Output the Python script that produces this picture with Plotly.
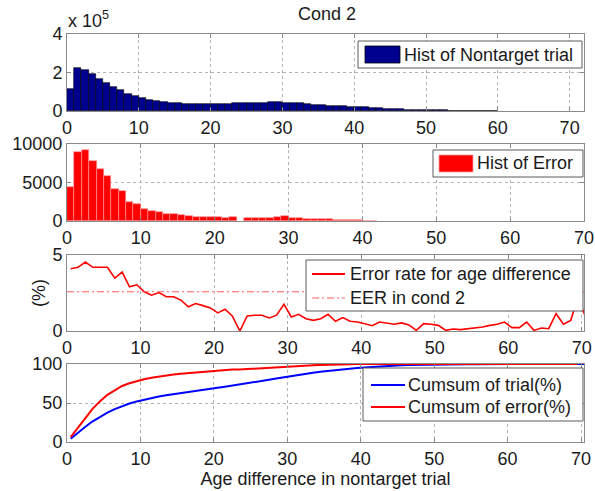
import numpy as np
import plotly.graph_objects as go

# ---------------- data ----------------
# 1-year age-difference bins (left edges)
trial_bins = np.arange(0, 72)
# non-target trial counts per bin, in units of 1e5
nontarget_hist_1e5 = [
    1.13, 2.23, 2.11, 1.92, 1.66, 1.45, 1.26, 1.07, 0.90, 0.76,
    0.66, 0.57, 0.50, 0.45, 0.42, 0.39, 0.38, 0.37, 0.37, 0.37,
    0.38, 0.37, 0.38, 0.39, 0.41, 0.43, 0.44, 0.43, 0.47, 0.45,
    0.44, 0.43, 0.40, 0.36, 0.33, 0.30, 0.28, 0.26, 0.24, 0.23,
    0.21, 0.19, 0.17, 0.15, 0.13, 0.11, 0.09, 0.075, 0.06, 0.05,
    0.04, 0.035, 0.03, 0.025, 0.02, 0.02, 0.015, 0.012, 0.01, 0.008,
    0, 0, 0, 0, 0, 0, 0, 0, 0, 0, 0, 0,
]

error_bins = np.arange(0, 70)
error_hist = [
    4460, 9000, 9260, 7840, 6710, 5890, 4110, 3940, 2470, 2160,
    1560, 1300, 1170, 950, 870, 740, 600, 560, 560, 560,
    560, 430, 520, 0, 430, 430, 430, 430, 480, 650,
    390, 350, 220, 220, 220, 300, 130, 130, 100, 90,
    20, 60, 0, 0, 0, 0, 0, 0, 0, 0,
    0, 0, 0, 0, 0, 0, 0, 0, 0, 0,
    0, 0, 0, 0, 0, 0, 0, 0, 0, 0,
]

rate_bins = np.arange(0, 71)
error_rate_pct = [
    4.10, 4.19, 4.54, 4.19, 4.19, 4.19, 3.48, 3.88, 2.91, 3.04,
    2.58, 2.36, 2.53, 2.25, 2.25, 2.03, 1.59, 1.81, 1.67, 1.52,
    1.19, 1.43, 0.97, 0.00, 0.99, 1.04, 1.04, 0.86, 1.04, 1.76,
    0.92, 1.10, 0.81, 0.70, 0.81, 1.10, 0.64, 0.88, 0.64, 0.59,
    0.48, 0.35, 0.59, 0.53, 0.44, 0.53, 0.40, 0.04, 0.48, 0.44,
    0.37, 0.04, 0.13, 0.09, 0.15, 0.22, 0.26, 0.37, 0.44, 0.59,
    0.22, 0.22, 0.59, 0.04, 0.20, 0.15, 1.14, 0.44, 0.70, 2.24,
    0.92,
]
eer_cond2 = 2.58

# cumulative percentages derived from the two histograms
trial_counts = np.array(nontarget_hist_1e5) * 1e5
cum_trial = 100 * np.cumsum(trial_counts) / trial_counts.sum()
err_counts = np.array(error_hist, dtype=float)
cum_error = 100 * np.cumsum(err_counts) / err_counts.sum()

# empty bins are left undrawn (no outline along the baseline)
trial_bars = np.where(trial_counts > 0, trial_counts, np.nan)
error_bars = np.where(err_counts > 0, err_counts, np.nan)

# ---------------- geometry helpers ----------------
W, H = 595, 491
L, R, T, B = 67, 584, 34, 442


def fx(px):
    return (px - L) / (R - L)


def fy(py):
    return (B - py) / (B - T)


panels = [(34, 111), (144, 221), (255, 331), (364, 442)]

FONT = "Liberation Sans, Arial, sans-serif"
TXT = "#1a1a1a"
AXC = "#8a8a8a"
GRID = "#b4b4b4"
NAVY = "#00008f"
RED = "#ff0000"
BLUE = "#0000ff"

fig = go.Figure()

fig.add_trace(go.Bar(
    x=trial_bins, y=trial_bars, width=1, offset=0,
    marker=dict(color=NAVY, line=dict(color="black", width=0.6)),
    xaxis="x", yaxis="y", showlegend=False))

fig.add_trace(go.Bar(
    x=error_bins, y=error_bars, width=1, offset=0,
    marker=dict(color=RED, line=dict(color="#ff9a9a", width=0.6)),
    xaxis="x2", yaxis="y2", showlegend=False))

fig.add_trace(go.Scatter(
    x=rate_bins + 0.5, y=error_rate_pct, mode="lines",
    line=dict(color=RED, width=1.6),
    xaxis="x3", yaxis="y3", showlegend=False))

fig.add_trace(go.Scatter(
    x=trial_bins + 0.5, y=cum_trial, mode="lines",
    line=dict(color=BLUE, width=2),
    xaxis="x4", yaxis="y4", showlegend=False))

fig.add_trace(go.Scatter(
    x=error_bins + 0.5, y=cum_error, mode="lines",
    line=dict(color=RED, width=2),
    xaxis="x4", yaxis="y4", showlegend=False))

# EER reference level
fig.add_shape(type="line", xref="x3 domain", yref="y3", x0=0, x1=1,
              y0=eer_cond2, y1=eer_cond2,
              line=dict(color="#ff5a5a", width=1, dash="7px,3px,2px,3px"),
              layer="above")

axis_common = dict(
    showline=True, linecolor=AXC, linewidth=1, mirror="ticks",
    ticks="inside", ticklen=4, tickcolor=AXC, tickwidth=1,
    showgrid=True, gridcolor=GRID, gridwidth=1, griddash="dot",
    zeroline=False, automargin=False,
    tickfont=dict(family=FONT, size=18, color=TXT),
)

x_ticks = list(range(0, 71, 10))
x_ranges = [[0, 72], [0, 70], [0, 70.3], [0, 70.4]]
y_specs = [
    dict(range=[0, 4e5], tickvals=[0, 2e5, 4e5], ticktext=["0", "2", "4"]),
    dict(range=[0, 10000], tickvals=[0, 5000, 10000],
         ticktext=["0", "5000", "10000"]),
    dict(range=[0, 5], tickvals=[0, 5], ticktext=["0", "5"], showgrid=False),
    dict(range=[0, 100], tickvals=[0, 50, 100], ticktext=["0", "50", "100"]),
]

layout = dict(
    width=W, height=H,
    margin=dict(l=L, r=W - R, t=T, b=H - B),
    paper_bgcolor="white", plot_bgcolor="white",
    template="none", bargap=0, barmode="overlay",
    font=dict(family=FONT, size=18, color=TXT),
    title=dict(text="Cond 2", x=fx(327), xref="paper", xanchor="center",
               y=1 - 14 / H, yref="container", yanchor="middle",
               font=dict(family=FONT, size=18, color=TXT)),
)

for i, ((top, bot), xr, ys) in enumerate(zip(panels, x_ranges, y_specs)):
    sfx = "" if i == 0 else str(i + 1)
    xa = dict(axis_common)
    xa.update(range=xr, tickvals=x_ticks, ticktext=[str(v) for v in x_ticks],
              anchor="y" + sfx, domain=[0, 1])
    ya = dict(axis_common)
    ya.update(ys)
    ya.update(anchor="x" + sfx, domain=[fy(bot), fy(top)])
    layout["xaxis" + sfx] = xa
    layout["yaxis" + sfx] = ya

layout["yaxis3"]["title"] = dict(text="(%)", standoff=2,
                                 font=dict(family=FONT, size=18, color=TXT))
layout["xaxis4"]["title"] = dict(text="Age difference in nontarget trial",
                                 standoff=4,
                                 font=dict(family=FONT, size=18, color=TXT))

fig.update_layout(**layout)

# scale factor label of the top panel
fig.add_annotation(text="x 10<sup>5</sup>", xref="paper", yref="paper",
                   x=fx(66), y=fy(33), xanchor="left", yanchor="bottom",
                   showarrow=False, font=dict(family=FONT, size=18, color=TXT))


# ---------------- legend boxes ----------------
def box(x0, y0, x1, y1):
    fig.add_shape(type="rect", xref="paper", yref="paper",
                  x0=fx(x0), x1=fx(x1), y0=fy(y1), y1=fy(y0),
                  line=dict(color="#5a5a5a", width=1), fillcolor="white",
                  layer="above")


def patch(x0, y0, x1, y1, fill, edge):
    fig.add_shape(type="rect", xref="paper", yref="paper",
                  x0=fx(x0), x1=fx(x1), y0=fy(y1), y1=fy(y0),
                  line=dict(color=edge, width=0.8), fillcolor=fill,
                  layer="above")


def sample(x0, x1, y, color, dash="solid", width=2):
    fig.add_shape(type="line", xref="paper", yref="paper",
                  x0=fx(x0), x1=fx(x1), y0=fy(y), y1=fy(y),
                  line=dict(color=color, width=width, dash=dash),
                  layer="above")


def label(x, y, text):
    fig.add_annotation(text=text, xref="paper", yref="paper",
                       x=fx(x), y=fy(y), xanchor="left", yanchor="middle",
                       showarrow=False,
                       font=dict(family=FONT, size=18, color=TXT))


box(358, 41, 582, 68)
patch(365, 46, 400, 63, NAVY, "black")
label(402, 55, "Hist of Nontarget trial")

box(433, 150, 583, 177)
patch(439, 155, 473, 172, RED, "#ff9a9a")
label(475, 163, "Hist of Error")

box(306, 260, 583, 311)
sample(312, 345, 274, RED, width=2)
label(348, 274, "Error rate for age difference")
sample(312, 345, 298, "#ff5a5a", dash="7px,3px,2px,3px", width=1)
label(348, 298, "EER in cond 2")

box(363, 368, 583, 421)
sample(371, 405, 385, BLUE, width=2)
label(406, 385, "Cumsum of trial(%)")
sample(371, 405, 407, RED, width=2)
label(406, 407, "Cumsum of error(%)")

fig.write_html("out.html")
